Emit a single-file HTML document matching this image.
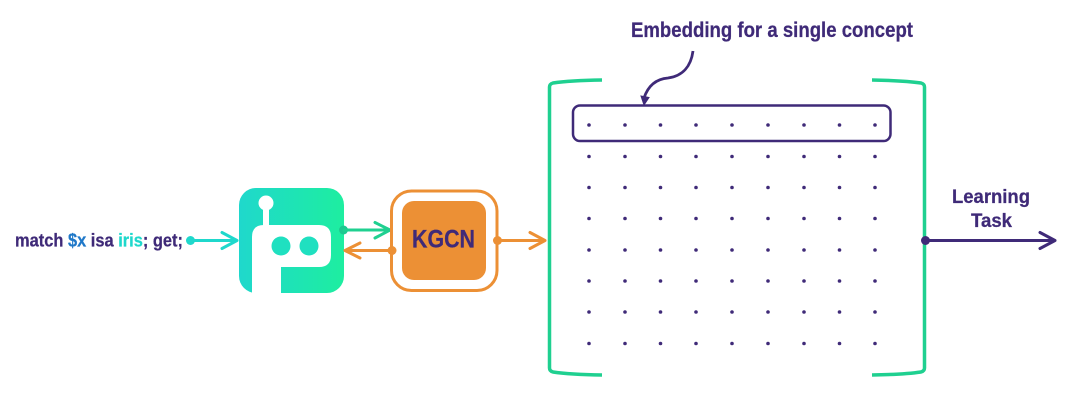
<!DOCTYPE html>
<html><head><meta charset="utf-8"><style>
html,body{margin:0;padding:0;background:#fff;width:1080px;height:400px;overflow:hidden}
svg{display:block}
text{font-family:"Liberation Sans",sans-serif;font-weight:700;fill:#3f2a78;stroke:#3f2a78;stroke-width:.25px}
tspan.b{fill:#1f78c8;stroke:#1f78c8}
tspan.c{fill:#1fd8cc;stroke:#1fd8cc}
</style></head><body>
<svg width="1080" height="400" viewBox="0 0 1080 400" xmlns="http://www.w3.org/2000/svg">
<defs><linearGradient id="g" x1="0" y1="0" x2="1" y2="0"><stop offset="0" stop-color="#1fd8cc"/><stop offset="1" stop-color="#1eeea0"/></linearGradient></defs>

<text x="15" y="246.500" font-size="18" textLength="168" lengthAdjust="spacingAndGlyphs">match <tspan class="b">$x</tspan> isa <tspan class="c">iris</tspan>; get;</text>
<circle cx="190.500" cy="240.500" r="4.500" fill="#1fd8cc"/>
<path d="M190 240.500H237M222 232.500L237 240.500L222 248.500" fill="none" stroke="#1fd8cc" stroke-width="3" stroke-linecap="round" stroke-linejoin="round"/>

<rect x="239" y="188" width="105" height="105" rx="17" fill="url(#g)"/>
<rect x="263" y="205" width="6" height="24" fill="#fff"/>
<circle cx="266" cy="203" r="7.500" fill="#fff"/>
<path d="M252 293V237Q252 225 264 225H319Q331 225 331 237V255Q331 267 319 267H281V293Z" fill="#fff"/>
<circle cx="281" cy="246" r="9.500" fill="#1fe0c0"/>
<circle cx="309" cy="246" r="9.500" fill="#1fe0c0"/>

<circle cx="343.500" cy="230" r="4.500" fill="#1fc890"/>
<path d="M344 230H390M375 222.500L390 230L375 238" fill="none" stroke="#1fd090" stroke-width="3" stroke-linecap="round" stroke-linejoin="round"/>
<path d="M391 250.500H345M360 243L345 250.500L360 258" fill="none" stroke="#ec9035" stroke-width="3" stroke-linecap="round" stroke-linejoin="round"/>

<rect x="391.500" y="191" width="105.500" height="99.500" rx="20" fill="none" stroke="#ec9035" stroke-width="3"/>
<circle cx="392" cy="250.500" r="4.500" fill="#ec9035"/>
<rect x="402" y="201" width="84" height="79" rx="12" fill="#ec9035"/>
<text x="412" y="247.500" font-size="25" textLength="63" lengthAdjust="spacingAndGlyphs">KGCN</text>
<circle cx="497.500" cy="240.500" r="4.500" fill="#ec9035"/>
<path d="M498 240.500H545M530 232.500L545 240.500L530 248.500" fill="none" stroke="#ec9035" stroke-width="3" stroke-linecap="round" stroke-linejoin="round"/>

<path d="M602 80Q570 80.500 553 83Q549.500 84 549.500 87V368Q549.500 371 553 372Q570 374.500 602 375" fill="none" stroke="#1fd090" stroke-width="3.500"/>
<path d="M872 80Q904 80.500 921 83Q924.500 84 924.500 87V368Q924.500 371 921 372Q904 374.500 872 375" fill="none" stroke="#1fd090" stroke-width="3.500"/>

<text x="631" y="37" font-size="21" textLength="282" lengthAdjust="spacingAndGlyphs">Embedding for a single concept</text>
<path d="M693 51C691 66 683 76 668 78C656 79 648 86 644 98" fill="none" stroke="#3f2a78" stroke-width="2.800"/>
<path d="M644 105L641 96L649 97.500Z" fill="#3f2a78" stroke="#3f2a78" stroke-width="1"/>
<rect x="573" y="105.500" width="317.500" height="35.500" rx="7" fill="#fff" stroke="#3f2a78" stroke-width="2.500"/>

<g fill="#3f2a78">
<circle cx="589" cy="125" r="1.800"/><circle cx="625" cy="125" r="1.800"/><circle cx="660.500" cy="125" r="1.800"/><circle cx="696" cy="125" r="1.800"/><circle cx="732" cy="125" r="1.800"/><circle cx="768" cy="125" r="1.800"/><circle cx="804" cy="125" r="1.800"/><circle cx="839.500" cy="125" r="1.800"/><circle cx="875" cy="125" r="1.800"/>
<circle cx="589" cy="156.500" r="1.800"/><circle cx="625" cy="156.500" r="1.800"/><circle cx="660.500" cy="156.500" r="1.800"/><circle cx="696" cy="156.500" r="1.800"/><circle cx="732" cy="156.500" r="1.800"/><circle cx="768" cy="156.500" r="1.800"/><circle cx="804" cy="156.500" r="1.800"/><circle cx="839.500" cy="156.500" r="1.800"/><circle cx="875" cy="156.500" r="1.800"/>
<circle cx="589" cy="187.500" r="1.800"/><circle cx="625" cy="187.500" r="1.800"/><circle cx="660.500" cy="187.500" r="1.800"/><circle cx="696" cy="187.500" r="1.800"/><circle cx="732" cy="187.500" r="1.800"/><circle cx="768" cy="187.500" r="1.800"/><circle cx="804" cy="187.500" r="1.800"/><circle cx="839.500" cy="187.500" r="1.800"/><circle cx="875" cy="187.500" r="1.800"/>
<circle cx="589" cy="218.500" r="1.800"/><circle cx="625" cy="218.500" r="1.800"/><circle cx="660.500" cy="218.500" r="1.800"/><circle cx="696" cy="218.500" r="1.800"/><circle cx="732" cy="218.500" r="1.800"/><circle cx="768" cy="218.500" r="1.800"/><circle cx="804" cy="218.500" r="1.800"/><circle cx="839.500" cy="218.500" r="1.800"/><circle cx="875" cy="218.500" r="1.800"/>
<circle cx="589" cy="250" r="1.800"/><circle cx="625" cy="250" r="1.800"/><circle cx="660.500" cy="250" r="1.800"/><circle cx="696" cy="250" r="1.800"/><circle cx="732" cy="250" r="1.800"/><circle cx="768" cy="250" r="1.800"/><circle cx="804" cy="250" r="1.800"/><circle cx="839.500" cy="250" r="1.800"/><circle cx="875" cy="250" r="1.800"/>
<circle cx="589" cy="281" r="1.800"/><circle cx="625" cy="281" r="1.800"/><circle cx="660.500" cy="281" r="1.800"/><circle cx="696" cy="281" r="1.800"/><circle cx="732" cy="281" r="1.800"/><circle cx="768" cy="281" r="1.800"/><circle cx="804" cy="281" r="1.800"/><circle cx="839.500" cy="281" r="1.800"/><circle cx="875" cy="281" r="1.800"/>
<circle cx="589" cy="312" r="1.800"/><circle cx="625" cy="312" r="1.800"/><circle cx="660.500" cy="312" r="1.800"/><circle cx="696" cy="312" r="1.800"/><circle cx="732" cy="312" r="1.800"/><circle cx="768" cy="312" r="1.800"/><circle cx="804" cy="312" r="1.800"/><circle cx="839.500" cy="312" r="1.800"/><circle cx="875" cy="312" r="1.800"/>
<circle cx="589" cy="343.500" r="1.800"/><circle cx="625" cy="343.500" r="1.800"/><circle cx="660.500" cy="343.500" r="1.800"/><circle cx="696" cy="343.500" r="1.800"/><circle cx="732" cy="343.500" r="1.800"/><circle cx="768" cy="343.500" r="1.800"/><circle cx="804" cy="343.500" r="1.800"/><circle cx="839.500" cy="343.500" r="1.800"/><circle cx="875" cy="343.500" r="1.800"/>
</g>

<text x="952" y="203" font-size="19.500" textLength="78" lengthAdjust="spacingAndGlyphs">Learning</text>
<text x="971" y="227" font-size="19.500" textLength="41" lengthAdjust="spacingAndGlyphs">Task</text>
<circle cx="925.500" cy="240.500" r="4.500" fill="#3f2a78"/>
<path d="M926 240.500H1055M1040 232.500L1055 240.500L1040 248.500" fill="none" stroke="#3f2a78" stroke-width="3" stroke-linecap="round" stroke-linejoin="round"/>
</svg>
</body></html>
